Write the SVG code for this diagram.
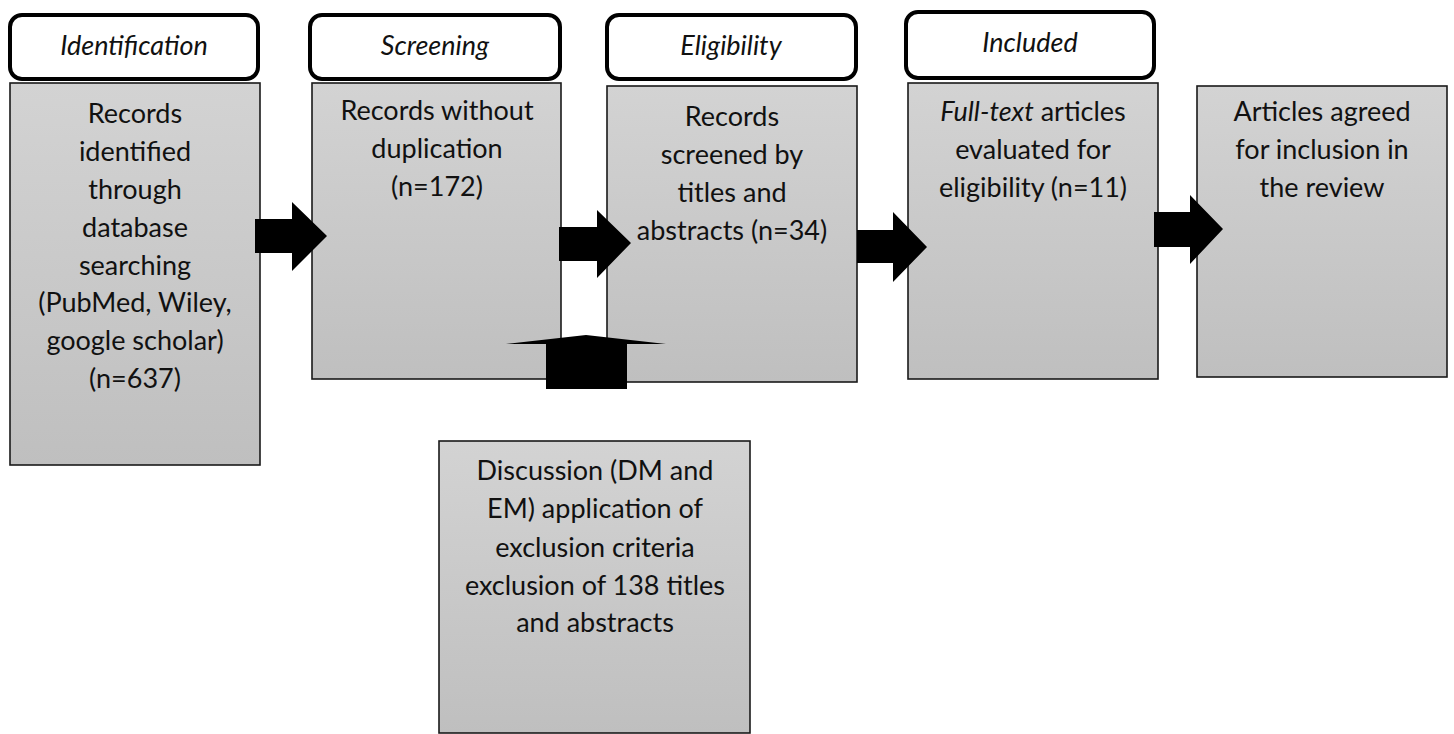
<svg xmlns="http://www.w3.org/2000/svg" width="1454" height="734" viewBox="0 0 1454 734">
  <defs>
    <linearGradient id="boxFill" x1="0" y1="0" x2="0" y2="1">
      <stop offset="0" stop-color="#d3d3d3"/>
      <stop offset="1" stop-color="#bfbfbf"/>
    </linearGradient>
    <style>
      .stage { fill: #ffffff; stroke: #000000; stroke-width: 4; }
      .box { fill: url(#boxFill); stroke: #1a1a1a; stroke-width: 1.6; }
      .lbl { font-family: Lato, "Liberation Sans", sans-serif; font-size: 27px; fill: #111111; text-anchor: middle; }
      .stg { font-style: italic; }
      .arrow { fill: #000000; stroke: none; }
    </style>
  </defs>

  <rect width="1454" height="734" fill="#ffffff"/>

  <!-- stage headers -->
  <g id="stage-identification">
    <rect class="stage" x="10" y="15" width="248" height="64" rx="12"/>
    <text class="lbl stg" x="134" y="55">Identification</text>
  </g>
  <g id="stage-screening">
    <rect class="stage" x="310" y="15" width="250" height="64" rx="12"/>
    <text class="lbl stg" x="435" y="55">Screening</text>
  </g>
  <g id="stage-eligibility">
    <rect class="stage" x="607" y="15" width="249" height="64" rx="12"/>
    <text class="lbl stg" x="731" y="55">Eligibility</text>
  </g>
  <g id="stage-included">
    <rect class="stage" x="906" y="12" width="248" height="66" rx="12"/>
    <text class="lbl stg" x="1030" y="52">Included</text>
  </g>

  <!-- process boxes -->
  <g id="box-identified">
    <rect class="box" x="10" y="83" width="250" height="382"/>
    <text class="lbl" x="135" y="123">Records</text>
    <text class="lbl" x="135" y="161">identified</text>
    <text class="lbl" x="135" y="199">through</text>
    <text class="lbl" x="135" y="237">database</text>
    <text class="lbl" x="135" y="275">searching</text>
    <text class="lbl" x="135" y="312">(PubMed, Wiley,</text>
    <text class="lbl" x="135" y="350">google scholar)</text>
    <text class="lbl" x="135" y="388">(n=637)</text>
  </g>
  <g id="box-deduplicated">
    <rect class="box" x="312" y="83" width="249" height="296"/>
    <text class="lbl" x="437" y="120">Records without</text>
    <text class="lbl" x="437" y="158">duplication</text>
    <text class="lbl" x="437" y="196">(n=172)</text>
  </g>
  <g id="box-screened">
    <rect class="box" x="607" y="86" width="250" height="296"/>
    <text class="lbl" x="732" y="126">Records</text>
    <text class="lbl" x="732" y="164">screened by</text>
    <text class="lbl" x="732" y="202">titles and</text>
    <text class="lbl" x="732" y="240">abstracts (n=34)</text>
  </g>
  <g id="box-fulltext">
    <rect class="box" x="908" y="83" width="250" height="296"/>
    <text class="lbl" x="1033" y="121"><tspan font-style="italic">Full-text</tspan> articles</text>
    <text class="lbl" x="1033" y="159">evaluated for</text>
    <text class="lbl" x="1033" y="197">eligibility (n=11)</text>
  </g>
  <g id="box-included">
    <rect class="box" x="1197" y="86" width="250" height="291"/>
    <text class="lbl" x="1322" y="121">Articles agreed</text>
    <text class="lbl" x="1322" y="159">for inclusion in</text>
    <text class="lbl" x="1322" y="197">the review</text>
  </g>
  <g id="box-exclusion">
    <rect class="box" x="439" y="441" width="311" height="292"/>
    <text class="lbl" x="595" y="480">Discussion (DM and</text>
    <text class="lbl" x="595" y="518">EM) application of</text>
    <text class="lbl" x="595" y="557">exclusion criteria</text>
    <text class="lbl" x="595" y="595">exclusion of 138 titles</text>
    <text class="lbl" x="595" y="632">and abstracts</text>
  </g>

  <!-- block arrows between steps -->
  <g id="connectors">
    <polygon class="arrow" points="255,219 292,219 292,202 327,236 292,271 292,253 255,253"/>
    <polygon class="arrow" points="559,227 597,227 597,210 631,243 597,278 597,261 559,261"/>
    <polygon class="arrow" points="857,230 893,230 893,212 927,247 893,282 893,263 857,263"/>
    <polygon class="arrow" points="1154,212 1190,212 1190,195 1223,229 1190,264 1190,247 1154,247"/>
    <polygon class="arrow" points="546,389 546,344 506,344 586,335 666,344 627,344 627,389"/>
  </g>
</svg>
